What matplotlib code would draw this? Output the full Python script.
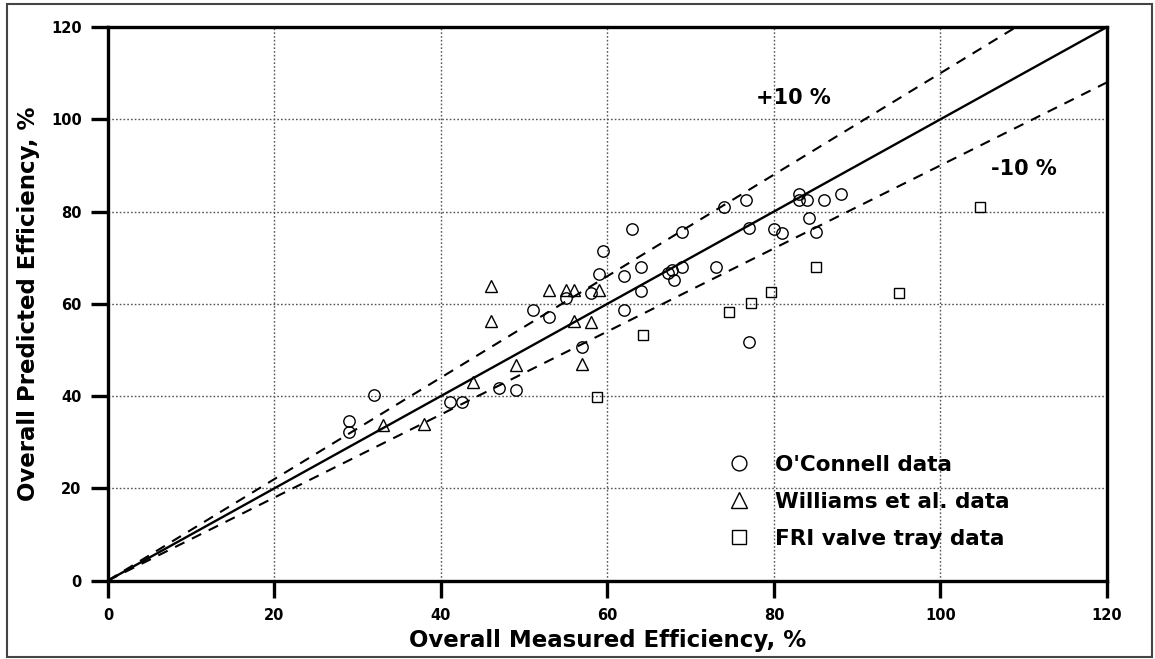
import matplotlib
matplotlib.use("Agg")
import matplotlib.pyplot as plt
from matplotlib.patches import Rectangle
import numpy as np

plt.rcParams['font.family'] = ['DejaVu Sans']

# O'Connell data (circles)
oconnell_x = [28.9, 28.9, 32, 41.1, 42.5, 47, 49, 51, 53, 55, 57, 58, 59, 59.5, 62, 62,
              63, 64, 64, 67.3, 67.7, 68, 69, 73, 69, 74, 76.7, 77, 77, 80, 81, 83, 83,
              84, 86, 88, 84.2, 85]
oconnell_y = [34.6, 32.2, 40.3, 38.7, 38.7, 41.8, 41.3, 58.7, 57.2, 61.3, 50.7, 62.3, 66.5,
              71.5, 66.1, 58.7, 76.3, 68, 62.8, 66.6, 67.4, 65.1, 68, 68, 75.6, 81, 82.4,
              76.4, 51.8, 76.3, 75.4, 83.9, 82.4, 82.4, 82.4, 83.9, 78.5, 75.5]

# Williams et al. data (triangles)
williams_x = [33, 38, 43.8, 46, 46, 49, 53, 55, 56, 59, 56, 58, 57]
williams_y = [33.8, 34, 43.1, 63.9, 56.3, 46.8, 62.9, 62.9, 62.9, 62.9, 56.3, 56.1, 47]

# FRI valve tray data (squares)
fri_x = [58.7, 64.3, 74.6, 77.2, 79.6, 85, 95, 104.7]
fri_y = [39.8, 53.3, 58.3, 60.2, 62.6, 68, 62.3, 81]

ticks = [0, 20, 40, 60, 80, 100, 120]
line_x = [0, 120]

fig = plt.figure(figsize=(11.55, 6.59), dpi=100)
ax = fig.add_axes([0.0935, 0.1191, 0.8649, 0.8399])

ax.set_xlim(0, 120)
ax.set_ylim(0, 120)

for t in ticks[1:-1]:
    ax.axvline(t, color='#555555', lw=1.0, ls=(0, (1.2, 1.5)), zorder=1)
    ax.axhline(t, color='#555555', lw=1.0, ls=(0, (1.2, 1.5)), zorder=1)

lx = np.array(line_x, dtype=float)
ax.plot(lx, lx, color='black', lw=1.7, zorder=2)
ax.plot(lx, 1.1 * lx, color='black', lw=1.5, ls=(0, (5, 4)), zorder=2)
ax.plot(lx, 0.9 * lx, color='black', lw=1.5, ls=(0, (5, 4)), zorder=2)

ax.plot(oconnell_x, oconnell_y, 'o', ms=8.2, mfc='none', mec='black', mew=1.0,
        label="O'Connell data", zorder=3)
ax.plot(williams_x, williams_y, '^', ms=9, mfc='none', mec='black', mew=1.0,
        label="Williams et al. data", zorder=3)
ax.plot(fri_x, fri_y, 's', ms=7.5, mfc='none', mec='black', mew=1.0,
        label="FRI valve tray data", zorder=3)

ax.text(82.3, 104.7, "+10 %", fontsize=15, fontweight='bold', ha='center', va='center')
ax.text(110, 89.3, "-10 %", fontsize=15, fontweight='bold', ha='center', va='center')

leg = ax.legend(loc='lower left', bbox_to_anchor=(0.599, 0.022), frameon=False,
                prop={'size': 15.5, 'weight': 'bold'}, handletextpad=1.1,
                labelspacing=0.8, handlelength=1.2, markerscale=1.3)

ax.set_xticks(ticks)
ax.set_yticks(ticks)
ax.set_xticklabels([str(t) for t in ticks], fontsize=10.5, fontweight='bold')
ax.set_yticklabels([str(t) for t in ticks], fontsize=10.5, fontweight='bold')
ax.tick_params(direction='out', length=12, width=2.4, pad=8)
ax.tick_params(axis='y', pad=7)
for s in ax.spines.values():
    s.set_linewidth(2.4)

ax.set_xlabel("Overall Measured Efficiency, %", fontsize=16.5, fontweight='bold', labelpad=4)
ax.set_ylabel("Overall Predicted Efficiency, %", fontsize=16.5, fontweight='bold', labelpad=8)

fig.patches.append(Rectangle((0.006, 0.003), 0.991, 0.991, transform=fig.transFigure,
                             fill=False, edgecolor='#444444', lw=1.5))

fig.savefig("out.png", dpi=100)
